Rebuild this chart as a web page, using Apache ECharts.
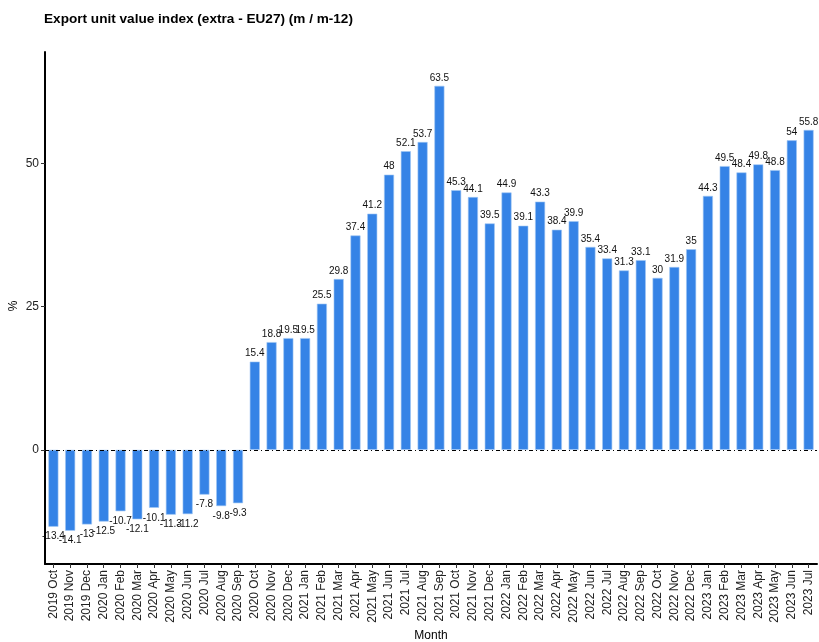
<!DOCTYPE html>
<html style="height: 100%">
<head>
    <meta charset="utf-8">
    <style>
        html, body { height: 100%; margin: 0; padding: 0; overflow: hidden; background: #fff; }
        #container { width: 819px; height: 642px; }
    </style>
</head>
<body>
    <div id="container"></div>
    <script src="https://cdn.jsdelivr.net/npm/echarts@6/dist/echarts.min.js"></script>
    <script>
        var months = [
            '2019 Oct', '2019 Nov', '2019 Dec',
            '2020 Jan', '2020 Feb', '2020 Mar', '2020 Apr', '2020 May', '2020 Jun',
            '2020 Jul', '2020 Aug', '2020 Sep', '2020 Oct', '2020 Nov', '2020 Dec',
            '2021 Jan', '2021 Feb', '2021 Mar', '2021 Apr', '2021 May', '2021 Jun',
            '2021 Jul', '2021 Aug', '2021 Sep', '2021 Oct', '2021 Nov', '2021 Dec',
            '2022 Jan', '2022 Feb', '2022 Mar', '2022 Apr', '2022 May', '2022 Jun',
            '2022 Jul', '2022 Aug', '2022 Sep', '2022 Oct', '2022 Nov', '2022 Dec',
            '2023 Jan', '2023 Feb', '2023 Mar', '2023 Apr', '2023 May', '2023 Jun',
            '2023 Jul'
        ];
        var values = [
            -13.4, -14.1, -13,
            -12.5, -10.7, -12.1, -10.1, -11.3, -11.2, -7.8, -9.8, -9.3, 15.4, 18.8, 19.5,
            19.5, 25.5, 29.8, 37.4, 41.2, 48, 52.1, 53.7, 63.5, 45.3, 44.1, 39.5,
            44.9, 39.1, 43.3, 38.4, 39.9, 35.4, 33.4, 31.3, 33.1, 30, 31.9, 35,
            44.3, 49.5, 48.4, 49.8, 48.8, 54, 55.8
        ];
        var yTicks = [0, 25, 50];

        var font = 'Liberation Sans, Arial, sans-serif';
        var myChart = echarts.init(document.getElementById('container'), null, { renderer: 'canvas' });

        var barData = values.map(function (v) {
            return {
                value: v,
                label: { position: v < 0 ? 'bottom' : 'top', distance: v < 0 ? 5 : 3 }
            };
        });

        var option = {
            animation: false,
            title: {
                text: 'Export unit value index (extra - EU27) (m / m-12)',
                left: 44,
                top: 12,
                padding: 0,
                textStyle: { fontFamily: font, fontSize: 13.6, fontWeight: 'bold', color: '#000' }
            },
            // y axis title placed by hand, the axis name kept drifting to the edge
            graphic: [{
                type: 'text',
                x: 14,
                y: 306,
                rotation: Math.PI / 2,
                style: {
                    text: '%',
                    fontFamily: font,
                    fontSize: 12,
                    fill: '#000',
                    align: 'center',
                    verticalAlign: 'middle'
                }
            }],
            grid: { left: 45, right: 2, top: 52, bottom: 78, containLabel: false, outerBoundsMode: 'none' },
            xAxis: {
                type: 'category',
                data: months,
                name: 'Month',
                nameLocation: 'middle',
                nameGap: 66,
                nameMoveOverlap: false,
                nameTextStyle: { fontFamily: font, fontSize: 12, color: '#000' },
                axisLine: { onZero: false, lineStyle: { color: '#000', width: 2 } },
                axisTick: { show: true, alignWithLabel: true, length: 4, lineStyle: { color: '#333' } },
                axisLabel: { rotate: 90, fontFamily: font, fontSize: 12, color: '#222', margin: 6, interval: 0 }
            },
            yAxis: {
                type: 'value',
                min: -19.9,
                max: 69.4,
                splitLine: { show: false },
                axisLine: { show: true, lineStyle: { color: '#000', width: 2 } },
                axisTick: { show: true, length: 4, customValues: yTicks, lineStyle: { color: '#333' } },
                axisLabel: { customValues: yTicks, fontFamily: font, fontSize: 12, color: '#222', margin: 6 }
            },
            series: [{
                type: 'bar',
                data: barData,
                barWidth: 10,
                itemStyle: { color: '#3583e6', borderColor: '#9fc6f3', borderWidth: 0.6 },
                label: {
                    show: true,
                    fontFamily: font,
                    fontSize: 10,
                    color: '#111'
                },
                markLine: {
                    silent: true,
                    symbol: 'none',
                    label: { show: false },
                    lineStyle: { color: '#000', width: 1, type: [4, 3, 1, 3] },
                    data: [{ yAxis: 0 }],
                    z: 10
                }
            }]
        };
        myChart.setOption(option);
    </script>
</body>
</html>
